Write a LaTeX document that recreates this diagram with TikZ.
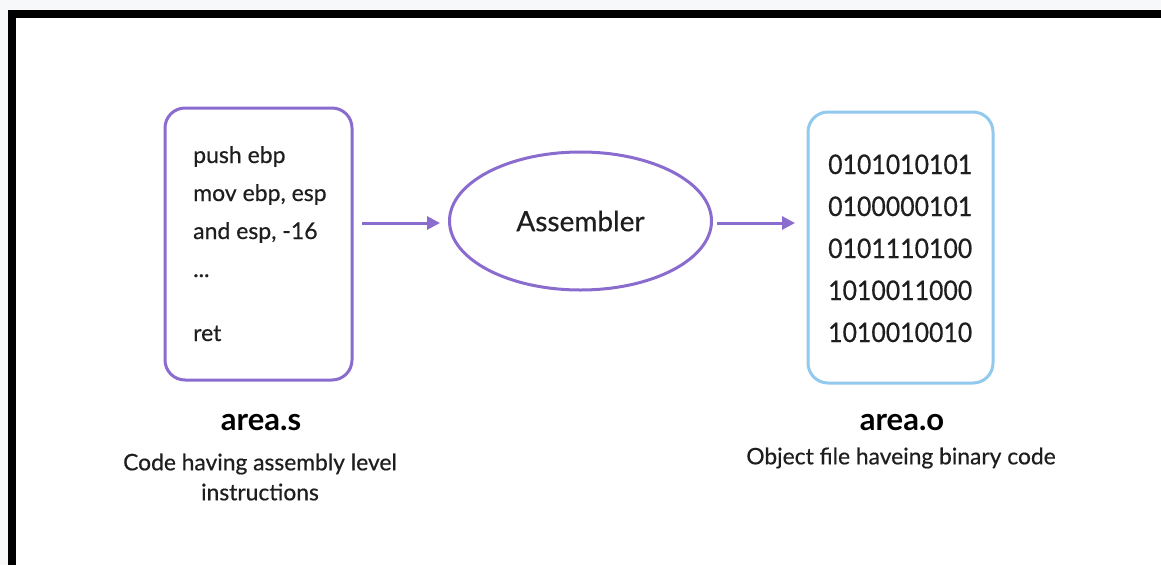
\documentclass[tikz,border=0pt]{standalone}
\usepackage{fontspec}
\setmainfont{Lato}
\newfontfamily\medfont{Lato}[FakeBold=0.5]
\usetikzlibrary{arrows.meta,shapes.geometric}
\definecolor{purp}{HTML}{8A6CCF}
\definecolor{lblue}{HTML}{92C9EE}
\definecolor{bgl}{HTML}{F7F8FA}
\definecolor{txt}{HTML}{1E1E1E}
\newcommand{\narrowbin}[1]{\scalebox{0.92}[1]{#1}}
\tikzset{
  filebox/.style={draw, rounded corners=20pt, line width=3pt, minimum width=187pt, minimum height=272pt},
  codeline/.style={anchor=base west, inner sep=0pt, text=txt, font=\medfont\fontsize{23}{27}\selectfont},
  binline/.style={anchor=base west, inner sep=0pt, text=txt, font=\medfont\fontsize{27}{32}\selectfont},
  flow/.style={draw=purp, line width=3pt, -{Triangle[length=13pt,width=13pt]}},
  title/.style={inner sep=0pt, text=black, font=\bfseries\fontsize{31}{36}\selectfont},
  caption/.style={inner sep=0pt, text=txt, font=\medfont\fontsize{22.8}{28}\selectfont}
}
\begin{document}
\begin{tikzpicture}[x=1pt,y=-1pt]
\fill[bgl] (0,0) rectangle (1161,565);
\fill[black] (8,10) rectangle (1161,565);
\fill[white] (16,18) rectangle (1161,565);
\useasboundingbox (0,0) rectangle (1161,565);

\node[filebox, draw=purp] (src) at (258.5,244) {};
\node[filebox, draw=lblue, minimum width=185pt, minimum height=271pt] (obj) at (900.5,247.5) {};
\node[ellipse, draw=purp, line width=3pt, minimum width=262pt, minimum height=138pt, inner sep=0pt,
      text=txt, font=\medfont\fontsize{28}{32}\selectfont] (asm) at (580.5,221) {Assembler};

\node[codeline] (c1) at (193,163) {push ebp};
\node[codeline] (c2) at (193,201) {mov ebp, esp};
\node[codeline] (c3) at (193,239) {and esp, -16};
\node[codeline] (c4) at (193,277) {...};
\node[codeline] (c5) at (193,341) {ret};

\node[binline] (b1) at (828,174) {\narrowbin{0101010101}};
\node[binline] (b2) at (828,216) {\narrowbin{0100000101}};
\node[binline] (b3) at (828,258) {\narrowbin{0101110100}};
\node[binline] (b4) at (828,300) {\narrowbin{1010011000}};
\node[binline] (b5) at (828,342) {\narrowbin{1010010010}};

\coordinate (a1s) at (362,223);
\coordinate (a1e) at (440,223);
\coordinate (a2s) at (717,223);
\coordinate (a2e) at (795,223);
\draw[flow] (a1s) -- (a1e);
\draw[flow] (a2s) -- (a2e);

\node[title] (tsrc) at (261,423) {area.s};
\node[caption, align=center] (csrc) at (260,477) {Code having assembly level\\[2pt]instructions};
\node[title] (tobj) at (902,423) {area.o};
\node[caption] (cobj) at (901,458) {Object file haveing binary code};
\end{tikzpicture}
\end{document}
